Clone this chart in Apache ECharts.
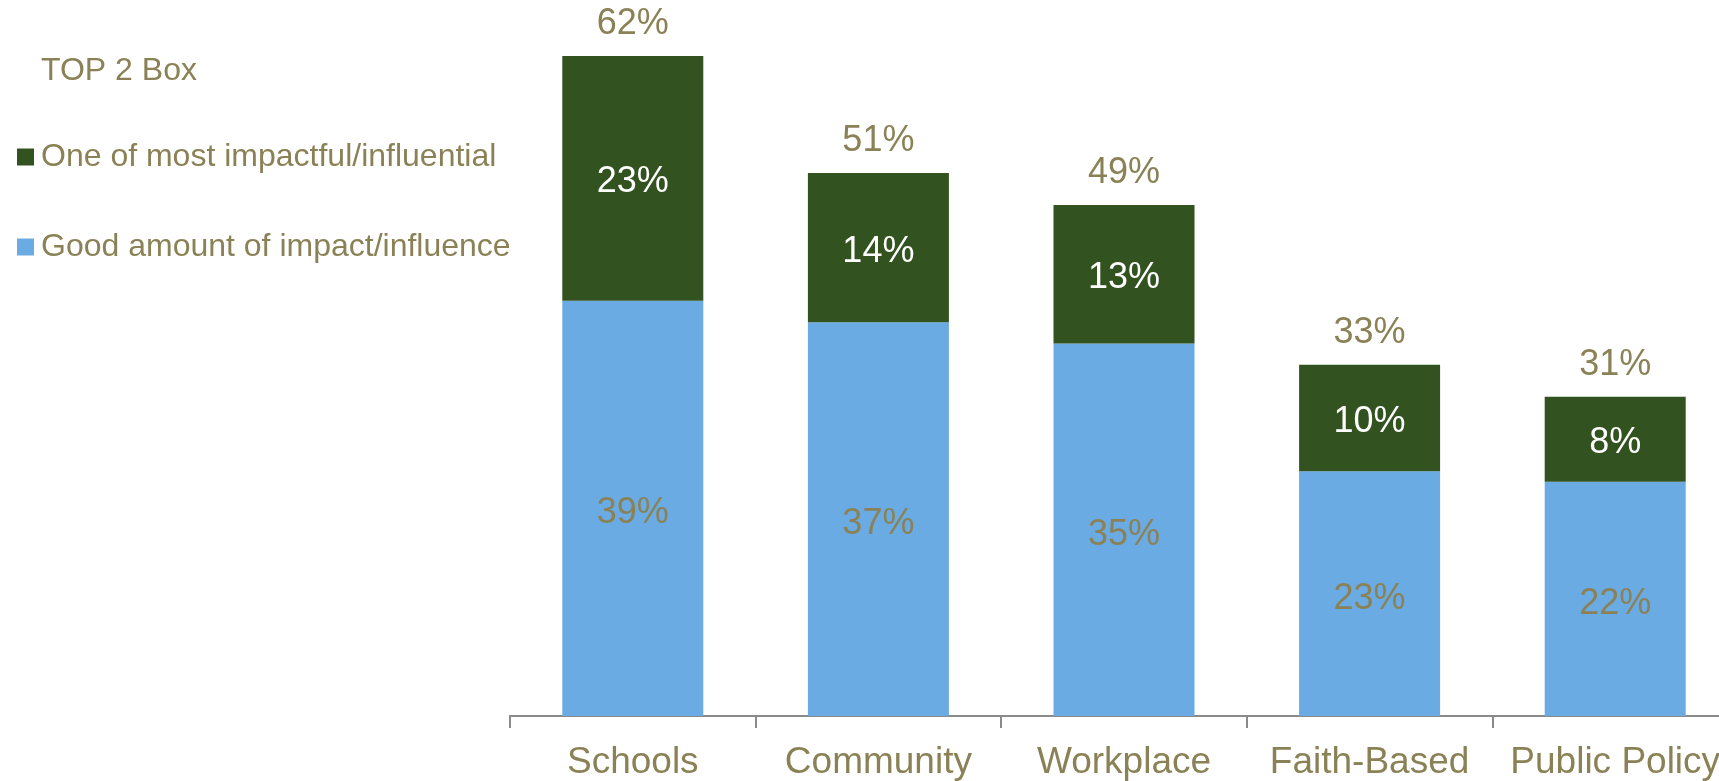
<!DOCTYPE html>
<html>
<head>
<meta charset="utf-8">
<script src="https://cdn.jsdelivr.net/npm/echarts@6/dist/echarts.min.js"></script>
<style>
html,body{margin:0;padding:0;background:#fff;}
#chart{width:1719px;height:781px;}
</style>
</head>
<body>
<div id="chart"></div>
<script>
var categories = ['Schools', 'Community', 'Workplace', 'Faith-Based', 'Public Policy'];
var goodAmount = [39, 37, 35, 23, 22];
var mostImpactful = [23, 14, 13, 10, 8];
var totals = [62, 51, 49, 33, 31];
var seriesNames = ['One of most impactful/influential', 'Good amount of impact/influence'];
var titleText = 'TOP 2 Box';

var OLIVE = '#8a8256';
var GREEN = '#325220';
var BLUE = '#6aabe3';
var FONT = 'Liberation Sans, Arial, sans-serif';

var chart = echarts.init(document.getElementById('chart'));
chart.setOption({
  backgroundColor: '#ffffff',
  animation: false,
  title: {
    text: titleText,
    left: 36,
    top: 50,
    textStyle: {color: OLIVE, fontSize: 32, fontWeight: 'normal', fontFamily: FONT}
  },
  legend: {
    orient: 'vertical',
    left: 12,
    top: 136,
    itemWidth: 17,
    itemHeight: 17,
    itemGap: 58,
    icon: 'rect',
    data: seriesNames,
    textStyle: {color: OLIVE, fontSize: 32, fontFamily: FONT, padding: [0, 0, 0, 2]}
  },
  grid: {left: 510, right: -19, top: 56, bottom: 65, containLabel: false, outerBoundsMode: 'none'},
  xAxis: {
    type: 'category',
    data: categories,
    axisLine: {lineStyle: {color: '#8a8a8a', width: 2}},
    axisTick: {show: true, length: 12, lineStyle: {color: '#8a8a8a', width: 2}},
    axisLabel: {color: OLIVE, fontSize: 37, fontFamily: FONT, margin: 28, interval: 0}
  },
  yAxis: {
    type: 'value', min: 0, max: 62, show: false,
    splitLine: {show: false}
  },
  series: [
    {
      name: seriesNames[1],
      type: 'bar',
      stack: 'top2',
      barWidth: 141,
      data: goodAmount,
      itemStyle: {color: BLUE},
      label: {show: true, position: 'inside', offset: [0, 5], color: OLIVE, fontSize: 36, fontFamily: FONT,
        formatter: function (p) { return p.value + '%'; }}
    },
    {
      name: seriesNames[0],
      type: 'bar',
      stack: 'top2',
      barWidth: 141,
      data: mostImpactful,
      itemStyle: {color: GREEN},
      label: {show: true, position: 'inside', offset: [0, 4], color: '#ffffff', fontSize: 36, fontFamily: FONT,
        formatter: function (p) { return p.value + '%'; }}
    },
    {
      name: 'total',
      type: 'bar',
      stack: 'top2',
      barWidth: 141,
      data: totals.map(function () { return 0; }),
      itemStyle: {color: 'transparent'},
      label: {show: true, position: 'top', distance: 14, color: OLIVE, fontSize: 36, fontFamily: FONT,
        formatter: function (p) { return totals[p.dataIndex] + '%'; }}
    }
  ]
});
</script>
</body>
</html>
